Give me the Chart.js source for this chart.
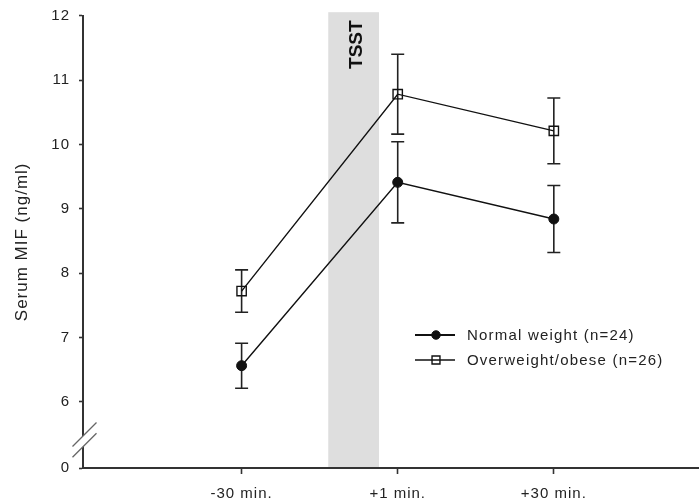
<!DOCTYPE html>
<html>
<head>
<meta charset="utf-8">
<title>Serum MIF</title>
<script src="https://cdn.jsdelivr.net/npm/chart.js@4.4.1/dist/chart.umd.min.js"></script>
<style>
  html, body { margin: 0; padding: 0; background: #fff; }
  canvas { display: block; }
</style>
</head>
<body>
<canvas id="myChart" width="699" height="502"></canvas>
<script>
// sampling times around the stress test
const timeLabels = ['-30 min.', '+1 min.', '+30 min.'];
const timePositions = [1, 2, 3];

// serum MIF, mean and SEM (ng/ml)
const normalMean = [6.56, 9.41, 8.84];
const normalSem = [0.35, 0.63, 0.52];
const obeseMean = [7.72, 10.78, 10.21];
const obeseSem = [0.33, 0.62, 0.51];

const seriesNames = ['Normal weight (n=24)', 'Overweight/obese (n=26)'];

// y axis is broken between 0 and 6
const yTicks = [6, 7, 8, 9, 10, 11, 12];
const yBreakValue = 4.97;   // where the "0" tick sits
const yTop = 12;

// TSST window on the x axis
const tsstStart = 1.555;
const tsstEnd = 1.88;

const FONT = "'Liberation Sans', Arial, sans-serif";
const INK = '#222';
const AXIS = '#333';

const spacing = {
    id: 'spacing',
    beforeDraw(chart) {
        chart.ctx.letterSpacing = '1px';
    }
};

const tsstBand = {
    id: 'tsstBand',
    beforeDatasetsDraw(chart) {
        const {ctx, chartArea, scales: {x}} = chart;
        const x0 = x.getPixelForValue(tsstStart);
        const x1 = x.getPixelForValue(tsstEnd);
        const top = chartArea.top - 3.5;
        ctx.save();
        ctx.fillStyle = '#dedede';
        ctx.fillRect(x0, top, x1 - x0, chartArea.bottom - top - 1);
        ctx.translate((x0 + x1) / 2 + 3, chartArea.top + 29);
        ctx.rotate(-Math.PI / 2);
        ctx.letterSpacing = '0px';
        ctx.font = 'bold 19px ' + FONT;
        ctx.fillStyle = '#111';
        ctx.textAlign = 'center';
        ctx.textBaseline = 'middle';
        ctx.fillText('TSST', 0, 0);
        ctx.restore();
    }
};

const errorBars = {
    id: 'errorBars',
    beforeDatasetsDraw(chart) {
        const {ctx, scales: {x, y}} = chart;
        ctx.save();
        ctx.strokeStyle = INK;
        ctx.lineWidth = 1.6;
        chart.data.datasets.forEach(ds => {
            ds.data.forEach((p, i) => {
                const px = x.getPixelForValue(p.x);
                const top = y.getPixelForValue(p.y + ds.sem[i]);
                const bot = y.getPixelForValue(p.y - ds.sem[i]);
                ctx.beginPath();
                ctx.moveTo(px, top);
                ctx.lineTo(px, bot);
                ctx.moveTo(px - 6.5, top);
                ctx.lineTo(px + 6.5, top);
                ctx.moveTo(px - 6.5, bot);
                ctx.lineTo(px + 6.5, bot);
                ctx.stroke();
            });
        });
        ctx.restore();
    }
};

// double slash on the y axis between 0 and 6
const axisBreak = {
    id: 'axisBreak',
    afterDraw(chart) {
        const {ctx, scales: {y}} = chart;
        const ax = y.right + 1.5;
        const cy = (y.getPixelForValue(yTicks[0]) + y.getPixelForValue(yBreakValue)) / 2 + 5;
        const d = 12;
        const a = cy - 5.3, b = cy + 5.3;
        ctx.save();
        ctx.fillStyle = '#fff';
        ctx.beginPath();
        ctx.moveTo(ax - 5, a + 5);
        ctx.lineTo(ax + 5, a - 5);
        ctx.lineTo(ax + 5, b - 5);
        ctx.lineTo(ax - 5, b + 5);
        ctx.closePath();
        ctx.fill();
        ctx.strokeStyle = '#666';
        ctx.lineWidth = 1.3;
        ctx.beginPath();
        ctx.moveTo(ax - d, a + d);
        ctx.lineTo(ax + d, a - d);
        ctx.moveTo(ax - d, b + d);
        ctx.lineTo(ax + d, b - d);
        ctx.stroke();
        ctx.restore();
    }
};

const legendBox = {
    id: 'legendBox',
    afterDraw(chart) {
        const ctx = chart.ctx;
        const left = 415, top = 335, rowGap = 25;
        ctx.save();
        ctx.letterSpacing = '1.2px';
        ctx.font = '15px ' + FONT;
        ctx.textBaseline = 'middle';
        chart.data.datasets.forEach((ds, i) => {
            const cy = top + i * rowGap;
            ctx.strokeStyle = ds.borderColor;
            ctx.lineWidth = i === 0 ? 2 : 1.3;
            ctx.beginPath();
            ctx.moveTo(left, cy);
            ctx.lineTo(left + 40, cy);
            ctx.stroke();
            ctx.fillStyle = ds.pointBackgroundColor;
            ctx.strokeStyle = ds.pointBorderColor;
            ctx.lineWidth = ds.pointBorderWidth;
            Chart.helpers.drawPoint(ctx, {
                pointStyle: ds.pointStyle,
                radius: ds.pointRadius * 0.85,
                borderWidth: ds.pointBorderWidth,
                rotation: 0
            }, left + 21, cy);
            ctx.fillStyle = INK;
            ctx.fillText(ds.label, left + 52, cy + 1);
        });
        ctx.restore();
    }
};

const ctx = document.getElementById('myChart').getContext('2d');
const chart = new Chart(ctx, {
    type: 'line',
    data: {
        datasets: [{
            label: seriesNames[0],
            data: timePositions.map((t, i) => ({x: t, y: normalMean[i]})),
            sem: normalSem,
            borderColor: '#111',
            borderWidth: 1.4,
            pointStyle: 'circle',
            pointRadius: 5,
            pointBackgroundColor: '#111',
            pointBorderColor: '#111',
            pointBorderWidth: 1,
            tension: 0,
            fill: false
        }, {
            label: seriesNames[1],
            data: timePositions.map((t, i) => ({x: t, y: obeseMean[i]})),
            sem: obeseSem,
            borderColor: '#111',
            borderWidth: 1.4,
            pointStyle: 'rect',
            pointRadius: 6.6,
            pointBackgroundColor: 'rgba(0,0,0,0)',
            pointBorderColor: '#111',
            pointBorderWidth: 1.4,
            tension: 0,
            fill: false
        }]
    },
    options: {
        responsive: false,
        animation: false,
        devicePixelRatio: 1,
        layout: {
            autoPadding: false,
            padding: { top: 15.7, right: 0, bottom: 0, left: 0 }
        },
        plugins: {
            legend: { display: false },
            tooltip: { enabled: false }
        },
        scales: {
            x: {
                type: 'linear',
                min: -0.016,
                max: 3.93,
                afterBuildTicks: s => { s.ticks = timePositions.map(v => ({value: v})); },
                afterFit: s => {
                    s.height = 34;
                    s.paddingLeft = 0;
                    s.paddingRight = 0;
                },
                ticks: {
                    callback: v => timeLabels[timePositions.indexOf(v)],
                    font: { family: FONT, size: 15 },
                    color: INK,
                    padding: 11,
                    maxRotation: 0,
                    autoSkip: false
                },
                grid: { drawOnChartArea: false, tickLength: 6, tickColor: AXIS, tickWidth: 1.6 },
                border: { color: AXIS, width: 2 }
            },
            y: {
                type: 'linear',
                min: yBreakValue,
                max: yTop,
                afterBuildTicks: s => { s.ticks = [yBreakValue].concat(yTicks).map(v => ({value: v})); },
                afterFit: s => {
                    s.width = 83;
                    s.paddingTop = 0;
                    s.paddingBottom = 0;
                },
                ticks: {
                    callback: v => v === yBreakValue ? '0' : String(v),
                    font: { family: FONT, size: 15 },
                    color: INK,
                    padding: 9,
                    autoSkip: false
                },
                grid: { drawOnChartArea: false, tickLength: 4, tickColor: AXIS, tickWidth: 1.6 },
                border: { color: AXIS, width: 2 },
                title: {
                    display: true,
                    text: 'Serum MIF (ng/ml)',
                    font: { family: FONT, size: 17 },
                    color: INK,
                    padding: { top: 12, bottom: 0 }
                }
            }
        }
    },
    plugins: [spacing, tsstBand, errorBars, axisBreak, legendBox]
});
</script>
</body>
</html>
